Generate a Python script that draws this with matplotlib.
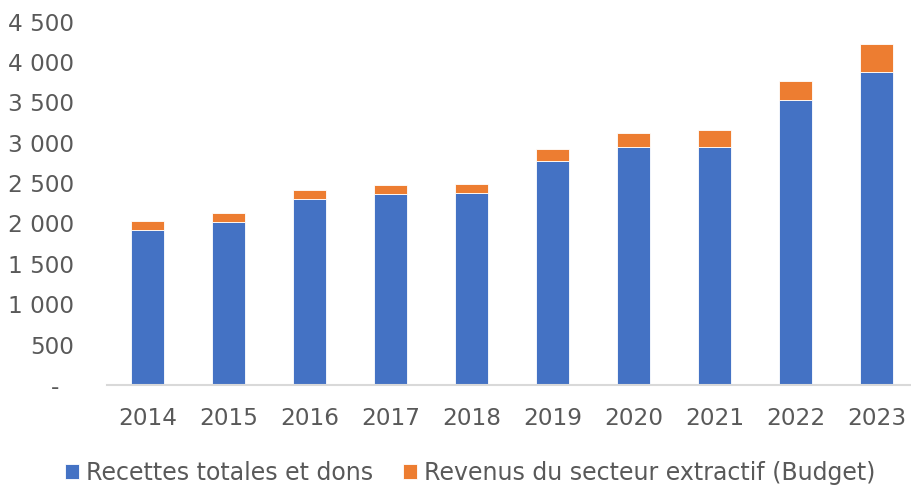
import numpy as np
import matplotlib.pyplot as plt

# données
annees = ['2014', '2015', '2016', '2017', '2018', '2019', '2020', '2021', '2022', '2023']
recettes = [1920, 2022, 2303, 2370, 2374, 2778, 2951, 2951, 3526, 3876]
extractif = [111, 104, 112, 107, 115, 145, 170, 211, 239, 351]

BLEU = '#4472C4'
ORANGE = '#ED7D31'
GRIS = '#595959'

plt.rcParams['font.family'] = ['DejaVu Sans Condensed', 'DejaVu Sans']

fig = plt.figure(figsize=(9.12, 4.91), dpi=100)
ax = fig.add_axes([107/912, 106/491, (912-107)/912, (385-21.6)/491])

x = np.arange(len(annees))
ax.bar(x, recettes, 0.41, color=BLEU, edgecolor='white', linewidth=0.6,
       label='Recettes totales et dons')
ax.bar(x, extractif, 0.41, bottom=recettes, color=ORANGE, edgecolor='white',
       linewidth=0.6, label='Revenus du secteur extractif (Budget)')

ax.set_xlim(-0.5, 9.44)
ax.set_ylim(0, 4500)
ax.set_yticks(np.arange(0, 4501, 500))

def fmt(v, pos):
    if v == 0:
        return '-  '
    return '{:,.0f}'.format(v).replace(',', ' ')
ax.yaxis.set_major_formatter(plt.FuncFormatter(fmt))
ax.set_xticks(x)
ax.set_xticklabels(annees)

ax.tick_params(axis='y', length=0, pad=24, labelsize=16.7, labelcolor=GRIS)
ax.tick_params(axis='x', length=0, pad=16, labelsize=16.7, labelcolor=GRIS)

for s in ['top', 'right', 'left']:
    ax.spines[s].set_visible(False)
ax.spines['bottom'].set_color('#D9D9D9')
ax.spines['bottom'].set_linewidth(1.5)

h, l = ax.get_legend_handles_labels()
leg = fig.legend(h, l, loc='center', bbox_to_anchor=(470/912, 1 - 473/491),
                 ncol=2, frameon=False, fontsize=17, handlelength=0.6,
                 handleheight=0.6, handletextpad=0.3, columnspacing=1.25,
                 borderaxespad=0)
for t in leg.get_texts():
    t.set_color(GRIS)

fig.savefig('out.png', dpi=100)
